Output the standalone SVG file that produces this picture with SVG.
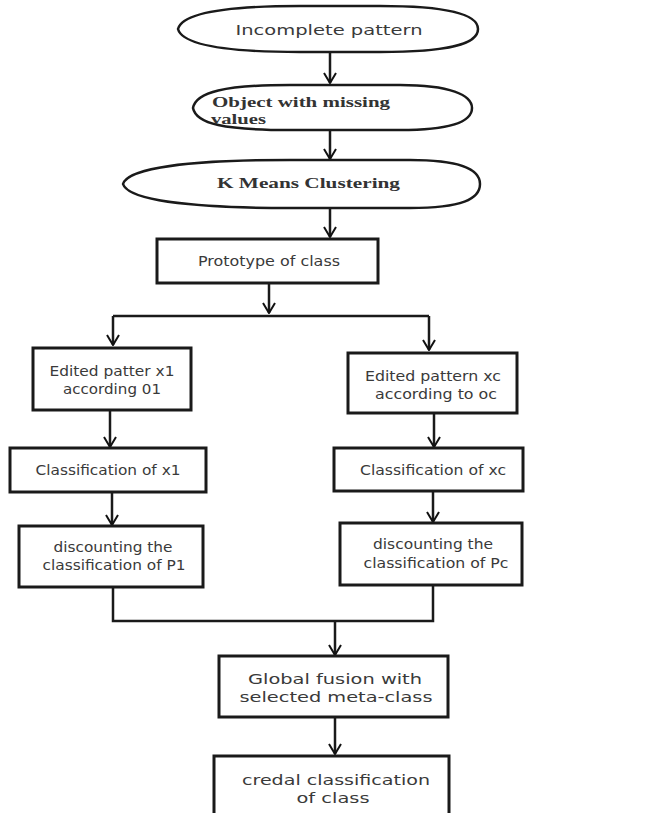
<svg xmlns="http://www.w3.org/2000/svg" width="647" height="813" viewBox="0 0 647 813">
<defs>
<marker id="arr" viewBox="0 0 14 14" refX="13" refY="7" markerWidth="14" markerHeight="14" markerUnits="userSpaceOnUse" orient="auto">
<polyline points="3,1 13,7 3,13" fill="none" stroke="#111" stroke-width="2"/>
</marker>
<style>
.box{fill:#fff;stroke:#1a1a1a;stroke-width:3}
.ell{fill:#fff;stroke:#1a1a1a;stroke-width:2.5}
.t{font-family:"DejaVu Sans",Verdana,sans-serif;font-size:14px;fill:#3a3a3a;text-anchor:middle}
.tb{font-family:"Liberation Serif","Times New Roman",serif;font-size:15px;font-weight:bold;fill:#333}
.c{fill:none;stroke:#1a1a1a;stroke-width:2.5}
</style>
</defs>
<rect width="647" height="813" fill="#fff"/>
<g id="connectors">
<line class="c" x1="330" y1="52" x2="330" y2="83" marker-end="url(#arr)"/>
<line class="c" x1="330" y1="130" x2="330" y2="159" marker-end="url(#arr)"/>
<line class="c" x1="330" y1="208" x2="330" y2="237" marker-end="url(#arr)"/>
<line class="c" x1="269" y1="283" x2="269" y2="313" marker-end="url(#arr)"/>
<polyline class="c" points="113,316 429,316"/>
<line class="c" x1="113" y1="316" x2="113" y2="345" marker-end="url(#arr)"/>
<line class="c" x1="429" y1="316" x2="429" y2="350" marker-end="url(#arr)"/>
<line class="c" x1="110" y1="410" x2="110" y2="447" marker-end="url(#arr)"/>
<line class="c" x1="434" y1="413" x2="434" y2="447" marker-end="url(#arr)"/>
<line class="c" x1="112" y1="492" x2="112" y2="525" marker-end="url(#arr)"/>
<line class="c" x1="433" y1="491" x2="433" y2="522" marker-end="url(#arr)"/>
<polyline class="c" points="113,587 113,621 433,621 433,585"/>
<line class="c" x1="335" y1="621" x2="335" y2="655" marker-end="url(#arr)"/>
<line class="c" x1="335" y1="717" x2="335" y2="754" marker-end="url(#arr)"/>
</g>
<g id="n1">
<path class="ell" d="M178,29 C182,14 220,6 300,6 L380,6 C450,6 478,15 478,29 C478,44 450,52 380,52 L300,52 C220,52 182,44 178,29 Z"/>
<text class="t" x="329" y="35" font-size="16" textLength="187" lengthAdjust="spacingAndGlyphs">Incomplete pattern</text>
</g>
<g id="n2">
<path class="ell" d="M193,108 C196,92 225,85 290,85 L400,85 C450,85 472,95 472,108 C472,122 450,130 400,130 L290,130 C225,130 196,124 193,108 Z"/>
<text class="tb" x="212" y="107" textLength="178" lengthAdjust="spacingAndGlyphs">Object with missing</text>
<text class="tb" x="211" y="124" textLength="55" lengthAdjust="spacingAndGlyphs">values</text>
</g>
<g id="n3">
<path class="ell" d="M123,184 C128,168 190,160 290,160 L410,160 C462,160 480,170 480,184 C480,199 462,208 410,208 L290,208 C190,208 128,200 123,184 Z"/>
<text class="tb" x="217" y="188" textLength="183" lengthAdjust="spacingAndGlyphs">K Means Clustering</text>
</g>
<g id="n4">
<rect class="box" x="157" y="239" width="221" height="44"/>
<text class="t" x="269" y="266" textLength="142" lengthAdjust="spacingAndGlyphs">Prototype of class</text>
</g>
<g id="n5">
<rect class="box" x="33" y="348" width="158" height="62"/>
<text class="t" x="112" y="376" textLength="125" lengthAdjust="spacingAndGlyphs">Edited patter x1</text>
<text class="t" x="112" y="394" textLength="98" lengthAdjust="spacingAndGlyphs">according 01</text>
</g>
<g id="n6">
<rect class="box" x="348" y="353" width="169" height="60"/>
<text class="t" x="433" y="381" textLength="136" lengthAdjust="spacingAndGlyphs">Edited pattern xc</text>
<text class="t" x="436" y="399" textLength="122" lengthAdjust="spacingAndGlyphs">according to oc</text>
</g>
<g id="n7">
<rect class="box" x="10" y="448" width="196" height="44"/>
<text class="t" x="108" y="475" textLength="145" lengthAdjust="spacingAndGlyphs">Classification of x1</text>
</g>
<g id="n8">
<rect class="box" x="334" y="448" width="189" height="43"/>
<text class="t" x="433" y="475" textLength="146" lengthAdjust="spacingAndGlyphs">Classification of xc</text>
</g>
<g id="n9">
<rect class="box" x="19" y="526" width="184" height="61"/>
<text class="t" x="113" y="552" textLength="119" lengthAdjust="spacingAndGlyphs">discounting the</text>
<text class="t" x="114" y="570" textLength="143" lengthAdjust="spacingAndGlyphs">classification of P1</text>
</g>
<g id="n10">
<rect class="box" x="340" y="523" width="182" height="62"/>
<text class="t" x="433" y="549" textLength="120" lengthAdjust="spacingAndGlyphs">discounting the</text>
<text class="t" x="436" y="568" textLength="145" lengthAdjust="spacingAndGlyphs">classification of Pc</text>
</g>
<g id="n11">
<rect class="box" x="219" y="656" width="229" height="61"/>
<text class="t" x="335" y="684" font-size="16" textLength="174" lengthAdjust="spacingAndGlyphs">Global fusion with</text>
<text class="t" x="336" y="702" font-size="16" textLength="193" lengthAdjust="spacingAndGlyphs">selected meta-class</text>
</g>
<g id="n12">
<rect class="box" x="214" y="756" width="235" height="70"/>
<text class="t" x="336" y="785" font-size="16" textLength="188" lengthAdjust="spacingAndGlyphs">credal classification</text>
<text class="t" x="333" y="803" font-size="16" textLength="73" lengthAdjust="spacingAndGlyphs">of class</text>
</g>
</svg>
